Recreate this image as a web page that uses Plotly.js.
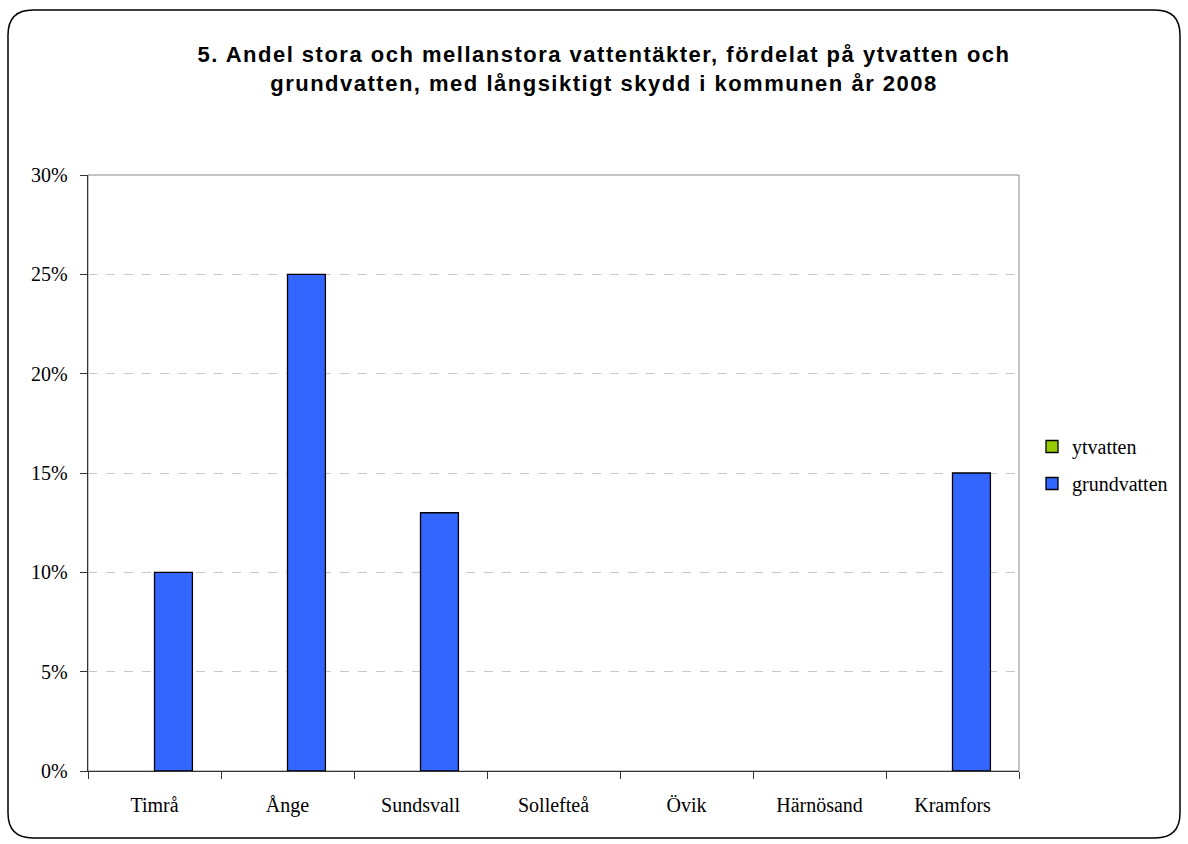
<!DOCTYPE html>
<html><head><meta charset="utf-8">
<script src="https://cdn.plot.ly/plotly-3.0.1.min.js"></script>
<style>body{margin:0;background:#fff}#c{width:1188px;height:844px}
#c .gtitle{letter-spacing:1.5px}</style>
</head><body><div id="c"></div>
<script>
const categories = ['Timrå','Ånge','Sundsvall','Sollefteå','Övik','Härnösand','Kramfors'];
const ytvatten = [0,0,0,0,0,0,0];
const grundvatten = [0.10,0.25,0.13,0,0,0,0.15];
const seriesNames = ['ytvatten','grundvatten'];
const seriesColors = ['#99CC00','#3366FF'];

const W=1188,H=844,L=88,R=169,T=175,B=73;
const pw=W-L-R, ph=H-T-B;
function px(x){return (x-L)/pw;}
function py(y){return (H-B-y)/ph;}
const x0=px(8),x1=px(1180),y0=py(838),y1=py(10);
const rx=25/pw, ry=25/ph;
const path=`M ${x0+rx},${y1} L ${x1-rx},${y1} Q ${x1},${y1} ${x1},${y1-ry} L ${x1},${y0+ry} Q ${x1},${y0} ${x1-rx},${y0} L ${x0+rx},${y0} Q ${x0},${y0} ${x0},${y0+ry} L ${x0},${y1-ry} Q ${x0},${y1} ${x0+rx},${y1} Z`;

const serif='"Liberation Serif", "Times New Roman", serif';
// zero-height bars are not visible in the original, so they are left undrawn
const data=[ytvatten,grundvatten].map((v,i)=>({
  type:'bar', x:categories, y:v.map(d=>d===0?null:d), name:seriesNames[i], legendgroup:'g'+i,
  marker:{color:seriesColors[i], line:{color:'#000',width:1.3}},
  hoverinfo:'skip'
}));
const layout={
  width:W,height:H,
  margin:{l:L,r:R,t:T,b:B},
  paper_bgcolor:'#fff', plot_bgcolor:'#fff',
  barmode:'group', bargap:0.43, bargroupgap:0,
  showlegend:true,
  title:{text:'5. Andel stora och mellanstora vattentäkter, fördelat på ytvatten och<br>grundvatten, med långsiktigt skydd i kommunen år 2008',
    font:{family:'"Liberation Sans", Arial, sans-serif',size:22,color:'#000',weight:'bold'},
    x:604/W, xanchor:'center', y:1-62/H, yanchor:'top'},
  xaxis:{type:'category', tickson:'boundaries', ticks:'outside', ticklen:7, tickcolor:'#333',
    showline:true, linecolor:'#333', linewidth:1.3, showgrid:false,
    tickfont:{family:serif,size:20,color:'#000'}, ticklabelstandoff:16, fixedrange:true},
  yaxis:{range:[0,0.3], dtick:0.05, tickformat:'.0%', ticks:'outside', ticklen:7, tickcolor:'#333',
    showline:true, linecolor:'#333', linewidth:1.3,
    showgrid:true, gridcolor:'#c8c8c8', griddash:'dash', gridwidth:1, zeroline:false,
    tickfont:{family:serif,size:20,color:'#000'}, ticklabelstandoff:8, fixedrange:true},
  legend:{x:px(1032), xanchor:'left', y:py(427), yanchor:'top', traceorder:'grouped',
    font:{family:serif,size:20,color:'#000'}, itemwidth:30, tracegroupgap:8},
  shapes:[
    {type:'rect',xref:'paper',yref:'paper',x0:0,x1:1,y0:0,y1:1,line:{color:'#888',width:1},layer:'below'},
    {type:'path',xref:'paper',yref:'paper',path:path,line:{color:'#000',width:1.5}}
  ]
};
Plotly.newPlot('c',data,layout,{displayModeBar:false,staticPlot:true});
</script></body></html>
